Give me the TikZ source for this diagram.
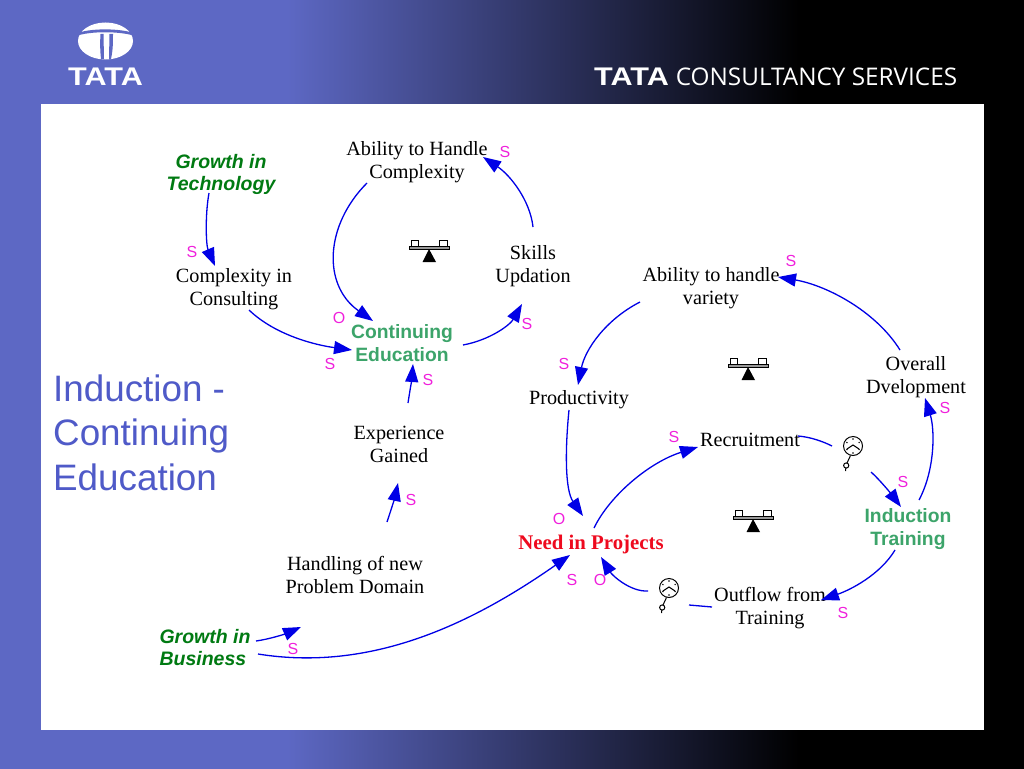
\documentclass[tikz,border=0pt]{standalone}
\usepackage{fontspec}
\setmainfont{Liberation Serif}
\setsansfont{Liberation Sans}
\newfontfamily\opensansfont{Open Sans}
\usetikzlibrary{arrows.meta}
\definecolor{tblue}{HTML}{5D68C4}
\definecolor{titleblue}{HTML}{4F5AC8}
\definecolor{connblue}{HTML}{0000E6}
\definecolor{signpink}{HTML}{F020DC}
\definecolor{techgreen}{HTML}{007A12}
\definecolor{mintgreen}{HTML}{3CA46A}
\definecolor{needred}{HTML}{EE0A1E}
\pgfdeclarehorizontalshading{slidebg}{100bp}{color(0bp)=(tblue); color(39bp)=(tblue); color(64bp)=(black); color(100bp)=(black)}
\tikzset{
  var/.style={inner sep=0pt,align=center,font=\fontsize{20.2}{23}\selectfont,text=black},
  extvar/.style={inner sep=0pt,align=center,font=\fontsize{19.5}{22}\selectfont\sffamily\bfseries\itshape,text=techgreen},
  keyvar/.style={inner sep=0pt,align=center,font=\fontsize{19.3}{23}\selectfont\sffamily\bfseries,text=mintgreen},
  needvar/.style={inner sep=0pt,align=center,font=\fontsize{20.8}{23}\selectfont\bfseries,text=needred},
  sign/.style={inner sep=0pt,font=\fontsize{16}{18}\selectfont\sffamily,text=signpink},
  conn/.style={draw=connblue,line width=1.3pt,-{Triangle[length=18pt,width=13pt,fill=connblue]}},
  plainconn/.style={draw=connblue,line width=1.3pt},
  clocknode/.style={circle,draw=black,line width=1pt,minimum size=19pt,inner sep=0pt},
  titletext/.style={inner sep=0pt,align=left,anchor=west,font=\fontsize{36.8}{44.5}\selectfont\sffamily,text=titleblue},
  logotext/.style={inner sep=0pt,text=white}
}
\newcommand{\balancemark}[1]{%
  \begin{scope}[shift={(#1)}]
    \draw[black,line width=1pt,fill=white] (-18,-10) rectangle (-11,-4);
    \draw[black,line width=1pt,fill=white] (10,-10) rectangle (18,-4);
    \draw[black,line width=1pt,fill=white!60!black] (-20,-4) rectangle (20,-1);
    \fill[black] (0,-1) -- (-6.5,12) -- (7,12) -- cycle;
  \end{scope}}
\newcommand{\delaymark}[2]{%
  \node[clocknode] (#1) at (#2) {};
  \begin{scope}[shift={(#2)}]
    \draw[black,line width=1pt] (-6,3) -- (0,-1) -- (6,3);
    \foreach \a in {30,90,150,210,270,330}{\fill[black] (\a:7) circle (.8);}
    \draw[black,line width=1pt] (-2.5,9.5) -- (-6,17);
    \draw[black,line width=1pt,fill=white] (-6.8,19.5) circle (2.6);
    \draw[black,line width=1pt] (-7.2,22) -- (-7.5,25);
  \end{scope}}
\begin{document}
\begin{tikzpicture}[x=1pt,y=-1pt]
\useasboundingbox (0,0) rectangle (1024,768);
\shade[shading=slidebg] (0,0) rectangle (1024,768);
\fill[white] (41,104) rectangle (984,730);

% TATA mark
\fill[white] (105.5,41) ellipse [x radius=27.5,y radius=18.5];
\fill[tblue] (76,36) .. controls (90,31) and (120,31) .. (135,36) -- (135,33.5) .. controls (120,28) and (90,28) .. (76,33.5) -- cycle;
\fill[tblue] (100.5,34) -- (103.5,34) -- (104,59) -- (101,59) .. controls (100,50) and (100,42) .. (100.5,34) -- cycle;
\fill[tblue] (109.5,34) -- (113,34) .. controls (113,42) and (113,50) .. (111,59) -- (109,59) -- cycle;
\node[logotext,font=\fontsize{25.5}{26}\selectfont\sffamily\bfseries] (tatamark) at (105.5,77) {\scalebox{1.2}[1]{TATA}};
\node[logotext,font=\fontsize{25.5}{26}\selectfont\sffamily\bfseries] (tataword) at (631.5,77) {\scalebox{1.2}[1]{TATA}};
\node[logotext,font=\fontsize{24.3}{26}\selectfont\opensansfont] (tcsword) at (816.5,77) {CONSULTANCY SERVICES};

% title
\node[titletext] (title) at (53,432.5) {Induction -\\Continuing\\Education};

% variables
\node[extvar] (tech) at (221,174) {Growth in\\Technology};
\node[var] (cic) at (234,289) {Complexity in\\Consulting};
\node[var] (ace) at (417,162) {Ability to Handle\\Complexity};
\node[var] (skills) at (533,266) {Skills\\Updation};
\node[keyvar] (ce) at (402,343) {Continuing\\Education};
\node[var] (exper) at (399,444) {Experience\\Gained};
\node[var] (handling) at (355,575) {Handling of new\\Problem Domain};
\node[extvar,align=left] (gb) at (205,648) {Growth in\\Business};
\node[var] (variety) at (711,288) {Ability to handle\\variety};
\node[var] (prod) at (579,400) {Productivity};
\node[needvar] (need) at (591,544) {Need in Projects};
\node[var] (recruit) at (750,440) {Recruitment};
\node[var] (overall) at (916,377) {Overall\\Dvelopment};
\node[keyvar] (induction) at (908,529) {Induction\\Training};
\node[var] (outflow) at (770,608) {Outflow from\\Training};

\delaymark{dA}{853,446}
\delaymark{dB}{669,588}
\balancemark{429,250}
\balancemark{748,368}
\balancemark{753,520}

% connectors
\draw[conn] ([shift={(-12,19)}]tech.center) .. controls (205,215) and (206,245) .. ([shift={(-19,-23)}]cic.center);
\draw[conn] ([shift={(15,21)}]cic.center) .. controls (275,335) and (315,345) .. ([shift={(-50,7)}]ce.center);
\draw[conn] ([shift={(-50,21)}]ace.center) .. controls (325,225) and (322,285) .. ([shift={(-29,-22)}]ce.center);
\draw[conn] ([shift={(61,2)}]ce.center) .. controls (490,340) and (510,325) .. ([shift={(-11,38)}]skills.center);
\draw[conn] ([shift={(0,-39)}]skills.center) .. controls (530,200) and (510,175) .. ([shift={(66,-5)}]ace.center);
\draw[conn] ([shift={(9,-41)}]exper.center) .. controls (410,390) and (412,378) .. ([shift={(11,21)}]ce.center);
\draw[conn] ([shift={(32,-53)}]handling.center) .. controls (391,510) and (395,497) .. ([shift={(-1,39)}]exper.center);
\draw[conn] ([shift={(51,-7)}]gb.center) .. controls (270,639) and (285,634) .. ([shift={(-54,52)}]handling.center);
\draw[conn] ([shift={(53,6)}]gb.center) .. controls (370,672) and (470,625) .. ([shift={(-21,11)}]need.center);
\draw[conn] ([shift={(-71,14)}]variety.center) .. controls (605,320) and (585,350) .. ([shift={(-1,-15)}]prod.center);
\draw[conn] ([shift={(-10,10)}]prod.center) .. controls (565,450) and (565,490) .. ([shift={(-8,-28)}]need.center);
\draw[conn] ([shift={(3,-16)}]need.center) .. controls (610,495) and (650,462) .. ([shift={(-52,7)}]recruit.center);
\draw[plainconn] ([shift={(48,-4)}]recruit.center) .. controls (810,437) and (822,441) .. ([shift={(-21,0)}]dA.center);
\draw[conn] ([shift={(18,26)}]dA.center) .. controls (880,480) and (892,495) .. ([shift={(-7,-22)}]induction.center);
\draw[conn] ([shift={(11,-29)}]induction.center) .. controls (935,470) and (935,430) .. ([shift={(9,21)}]overall.center);
\draw[conn] ([shift={(-16,-27)}]overall.center) .. controls (875,310) and (825,285) .. ([shift={(67,-11)}]variety.center);
\draw[conn] ([shift={(-13,21)}]induction.center) .. controls (880,575) and (850,590) .. ([shift={(51,-8)}]outflow.center);
\draw[plainconn] ([shift={(-58,-1)}]outflow.center) -- ([shift={(20,17)}]dB.center);
\draw[conn] ([shift={(-21,3)}]dB.center) .. controls (630,592) and (612,575) .. ([shift={(10,13)}]need.center);

% signs
\node[sign] (s1) at (505,152) {S};
\node[sign] (s2) at (192,252) {S};
\node[sign] (o1) at (339,318) {O};
\node[sign] (s3) at (330,364) {S};
\node[sign] (s4) at (527,324) {S};
\node[sign] (s5) at (428,380) {S};
\node[sign] (s6) at (411,500) {S};
\node[sign] (s7) at (293,649) {S};
\node[sign] (s8) at (572,580) {S};
\node[sign] (o2) at (600,580) {O};
\node[sign] (o3) at (559,519) {O};
\node[sign] (s9) at (564,364) {S};
\node[sign] (s10) at (674,437) {S};
\node[sign] (s11) at (791,261) {S};
\node[sign] (s12) at (945,408) {S};
\node[sign] (s13) at (903,482) {S};
\node[sign] (s14) at (843,613) {S};
\end{tikzpicture}
\end{document}
